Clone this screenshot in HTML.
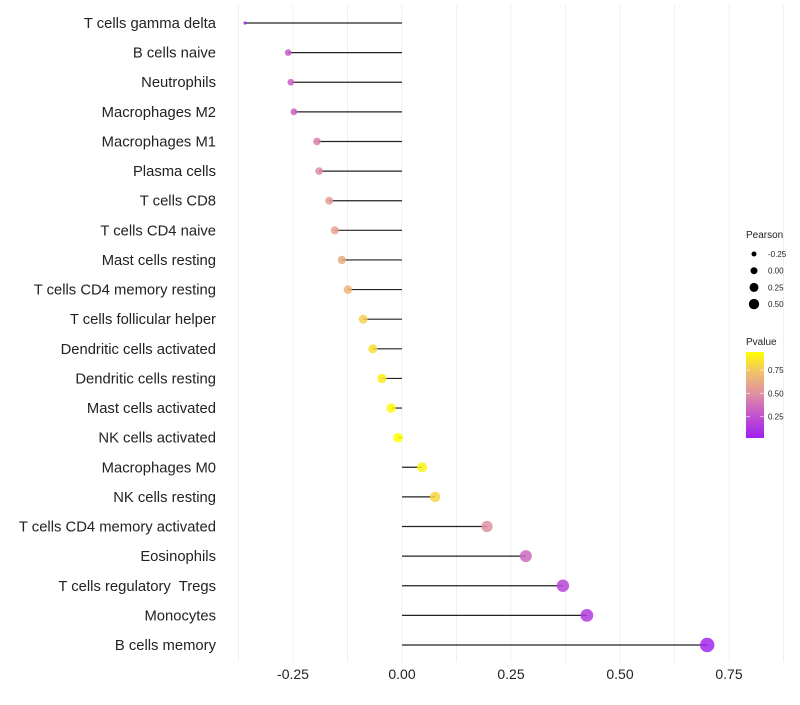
<!DOCTYPE html>
<html><head><meta charset="utf-8"><style>
body{margin:0;background:#fff;font-family:"Liberation Sans",sans-serif;}
text{white-space:pre;}
</style></head><body>
<svg id="chart" width="800" height="700" xmlns="http://www.w3.org/2000/svg" font-family="Liberation Sans, sans-serif"></svg>
<script>
const categories=["T cells gamma delta","B cells naive","Neutrophils","Macrophages M2","Macrophages M1","Plasma cells","T cells CD8","T cells CD4 naive","Mast cells resting","T cells CD4 memory resting","T cells follicular helper","Dendritic cells activated","Dendritic cells resting","Mast cells activated","NK cells activated","Macrophages M0","NK cells resting","T cells CD4 memory activated","Eosinophils","T cells regulatory  Tregs","Monocytes","B cells memory"];
const pearson=[-0.36,-0.261,-0.255,-0.248,-0.195,-0.19,-0.167,-0.154,-0.138,-0.124,-0.089,-0.067,-0.046,-0.025,-0.009,0.046,0.076,0.195,0.284,0.369,0.424,0.70];
const pvalue=[0.05,0.3,0.32,0.33,0.45,0.47,0.55,0.58,0.62,0.67,0.78,0.83,0.88,0.93,0.97,0.9,0.8,0.5,0.35,0.2,0.15,0.05];
const xTicks=[-0.25,0,0.25,0.5,0.75];
const xTickLabels=["-0.25","0.00","0.25","0.50","0.75"];
const sizeLegend=[-0.25,0,0.25,0.5];
const sizeLegendLabels=["-0.25","0.00","0.25","0.50"];
const pLegendTicks=[0.25,0.5,0.75];
const pLegendLabels=["0.25","0.50","0.75"];

const svg=document.getElementById('chart');
const NS="http://www.w3.org/2000/svg";
function mk(t,a,p){const e=document.createElementNS(NS,t);for(const k in a)e.setAttribute(k,a[k]);(p||svg).appendChild(e);return e;}
const x=v=>402+v*436;
const y=i=>23+i*(622/21);
const pMin=0.02,pMax=0.946;
const stops=[[0,[160,32,240]],[0.25,[192,80,208]],[0.5,[222,140,165]],[0.75,[240,190,110]],[1,[255,255,0]]];
function col(p){let t=(p-pMin)/(pMax-pMin);t=Math.max(0,Math.min(1,t));for(let i=1;i<stops.length;i++){if(t<=stops[i][0]){const a=stops[i-1],b=stops[i];const f=(t-a[0])/(b[0]-a[0]);const c=a[1].map((v,j)=>Math.round(v+(b[1][j]-v)*f));return `rgb(${c})`;}}return 'rgb(255,255,0)';}
const sMin=-0.36,sMax=0.7;
const r=v=>1.6+5.6*Math.sqrt(Math.max(0,(v-sMin)/(sMax-sMin)));

for(let g=-0.375;g<=0.876;g+=0.125){const l=mk('line',{x1:x(g),x2:x(g),y1:5,y2:662,stroke:'#f0f0f0','stroke-width':1});

}
xTicks.forEach((t,i)=>{const tx=mk('text',{x:x(t),y:679,'text-anchor':'middle','font-size':14,fill:'#222'});tx.textContent=xTickLabels[i];

});
categories.forEach((c,i)=>{
 const t=mk('text',{x:216,y:y(i)+5,'text-anchor':'end','font-size':14.8,fill:'#222'});t.textContent=c;
 
 
 const l=mk('line',{x1:x(0),x2:x(pearson[i]),y1:y(i),y2:y(i),stroke:'#222','stroke-width':1.2});
 
 
 const d=mk('circle',{cx:x(pearson[i]),cy:y(i),r:r(pearson[i]),fill:col(pvalue[i]),'fill-opacity':0.85});
 
 
});
const st=mk('text',{x:746,y:238,'font-size':10,fill:'#222'});st.textContent='Pearson';


sizeLegend.forEach((v,i)=>{const cy=254+i*16.7;
 const c=mk('circle',{cx:754,cy:cy,r:[2.5,3.5,4.5,5.2][i],fill:'#000'});
 
 
 const t=mk('text',{x:768,y:cy+3,'font-size':8,fill:'#222'});t.textContent=sizeLegendLabels[i];
 
 });
const ct=mk('text',{x:746,y:345,'font-size':10,fill:'#222'});ct.textContent='Pvalue';


const defs=mk('defs',{});const lg=mk('linearGradient',{id:'pg',x1:0,y1:1,x2:0,y2:0},defs);
stops.forEach(s=>mk('stop',{offset:s[0],'stop-color':`rgb(${s[1]})`},lg));
const bar=mk('rect',{x:746,y:352,width:18,height:86,fill:'url(#pg)'});


pLegendTicks.forEach((v,i)=>{const yy=352+86*(pMax-v)/(pMax-pMin);
 mk('line',{x1:746,x2:750,y1:yy,y2:yy,stroke:'#fff','stroke-opacity':0.6});
 mk('line',{x1:760,x2:764,y1:yy,y2:yy,stroke:'#fff','stroke-opacity':0.6});
 const t=mk('text',{x:768,y:yy+3,'font-size':8,fill:'#222'});t.textContent=pLegendLabels[i];
 
 });
</script>
</body></html>
